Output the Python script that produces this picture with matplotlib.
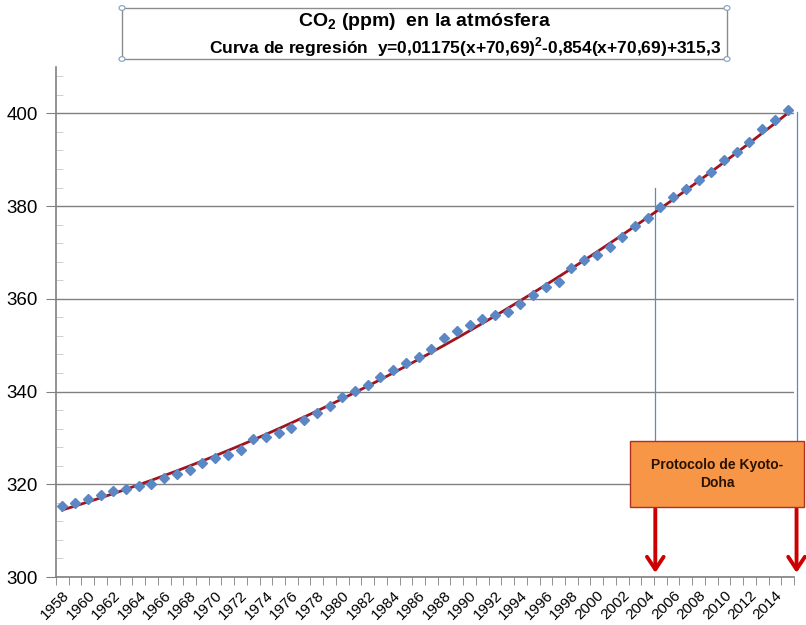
import matplotlib.pyplot as plt
from matplotlib.patches import Rectangle, Circle, FancyArrowPatch
from matplotlib.ticker import FixedLocator, MultipleLocator

# datos
years = list(range(1958, 2016))
co2 = [315.3, 315.97, 316.91, 317.64, 318.45, 318.99, 319.62, 320.04, 321.38, 322.16,
       323.04, 324.62, 325.68, 326.32, 327.45, 329.68, 330.18, 331.11, 332.04, 333.83,
       335.40, 336.84, 338.75, 340.11, 341.45, 343.05, 344.65, 346.12, 347.42, 349.19,
       351.57, 353.12, 354.39, 355.61, 356.45, 357.10, 358.83, 360.82, 362.61, 363.73,
       366.70, 368.38, 369.55, 371.14, 373.28, 375.80, 377.52, 379.80, 381.90, 383.79,
       385.60, 387.43, 389.90, 391.65, 393.85, 396.52, 398.65, 400.83]
regresion = [314.47, 315.31, 316.18, 317.07, 317.98, 318.92, 319.88, 320.86, 321.87, 322.90,
             323.95, 325.03, 326.13, 327.26, 328.40, 329.58, 330.77, 331.99, 333.23, 334.50,
             335.79, 337.10, 338.44, 339.80, 341.18, 342.59, 344.02, 345.47, 346.95, 348.45,
             349.97, 351.52, 353.09, 354.69, 356.30, 357.95, 359.61, 361.30, 363.01, 364.75,
             366.51, 368.29, 370.10, 371.93, 373.78, 375.66, 377.56, 379.48, 381.43, 383.40,
             385.39, 387.41, 389.45, 391.52, 393.61, 395.72, 397.85, 400.01]
y_ticks = [300, 320, 340, 360, 380, 400]
kyoto_inicio = 2004.6   # flecha izquierda (año)
kyoto_fin = 2015.7      # flecha derecha (año)
lineas_top = [383.8, 400.3]  # altura donde empiezan las lineas azules

plt.rcParams['font.family'] = ['Liberation Sans', 'DejaVu Sans']

fig = plt.figure(figsize=(8.06, 6.25), dpi=100)
ax = fig.add_axes([56 / 806, 48 / 625, 738 / 806, 510 / 625])

idx = list(range(len(years)))
ax.plot(idx, regresion, color='#A0141E', lw=2, zorder=3)
ax.plot(idx, co2, linestyle='none', marker='D', ms=5, color='#5B87C5', zorder=4)

ax.set_xlim(-0.5, len(years) - 0.5)
ax.set_ylim(300, 410)

# eje y
ax.set_yticks(y_ticks)
ax.yaxis.set_minor_locator(MultipleLocator(4))
ax.tick_params(axis='y', which='major', direction='out', length=7, color='#808080',
               labelsize=13.5, pad=6)
ax.tick_params(axis='y', which='minor', direction='in', length=5, color='#c8c8c8')
ax.grid(axis='y', color='#808080', lw=1)

# eje x (categorias)
ax.xaxis.set_major_locator(FixedLocator(idx[::2]))
ax.set_xticklabels([str(y) for y in years[::2]], rotation=45, ha='right',
                   rotation_mode='anchor', fontsize=11)
ax.xaxis.set_minor_locator(FixedLocator([i - 0.5 for i in idx] + [len(idx) - 0.5]))
ax.tick_params(axis='x', which='major', length=0, pad=8)
ax.tick_params(axis='x', which='minor', direction='out', length=6, color='#808080')

for s in ['top', 'right']:
    ax.spines[s].set_visible(False)
for s in ['left', 'bottom']:
    ax.spines[s].set_color('#808080')
    ax.spines[s].set_linewidth(1.2)

# titulo en caja
fig.patches.append(Rectangle((122 / 806, 1 - 59 / 625), 605 / 806, 51 / 625,
                             transform=fig.transFigure, fill=False, ec='#8c8c8c', lw=1))
for cx, cy in [(122, 8), (727, 8), (122, 59), (727, 59)]:
    fig.patches.append(Circle((cx / 806, 1 - cy / 625), 3 / 806, transform=fig.transFigure,
                              fc='white', ec='#7f9fbf', lw=0.8))
fig.text(425 / 806, 1 - 22 / 625, 'CO$_\\mathregular{2}$ (ppm)  en la atmósfera',
         ha='center', va='center', fontsize=14, fontweight='bold')
fig.text(721 / 806, 1 - 47 / 625,
         'Curva de regresión  y=0,01175(x+70,69)$^\\mathregular{2}$-0,854(x+70,69)+315,3',
         ha='right', va='center', fontsize=12.5, fontweight='bold')

# lineas azules y flechas del protocolo
x0 = kyoto_inicio - years[0]
x1 = kyoto_fin - years[0]
box_bottom = 315.3
box_top = 329.6
for xx, yt in zip([x0, x1], lineas_top):
    ax.plot([xx, xx], [box_top, yt], color='#5F8AC0', lw=0.9, zorder=2, clip_on=False)
    ax.add_patch(FancyArrowPatch((xx, box_bottom), (xx, 300.3),
                                 arrowstyle='->,head_length=9,head_width=6',
                                 color='#CC0000', lw=2.8, mutation_scale=1, zorder=5,
                                 clip_on=False))

fig.patches.append(Rectangle((630 / 806, 1 - 507 / 625), 174 / 806, 66 / 625,
                             transform=fig.transFigure, fc='#F79646', ec='#B03020', lw=1,
                             zorder=6))
fig.text(717 / 806, 1 - 474 / 625, 'Protocolo de Kyoto-\nDoha', ha='center', va='center',
         fontsize=10, fontweight='bold', color='#2a1200', linespacing=1.3, zorder=7)

fig.savefig('out.png', dpi=100)
